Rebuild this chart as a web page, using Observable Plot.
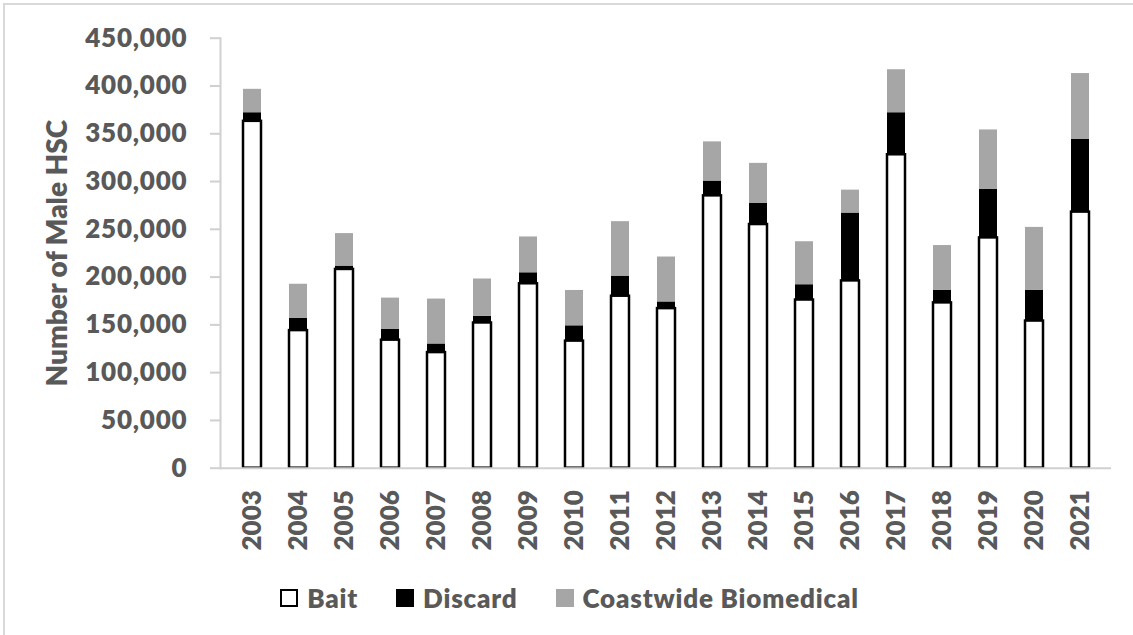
<!DOCTYPE html>
<html>
<head>
<meta charset="utf-8">
<script src="https://cdn.jsdelivr.net/npm/d3@7"></script>
<script src="https://cdn.jsdelivr.net/npm/@observablehq/plot@0.6"></script>
<style>
  html, body { margin: 0; padding: 0; background: #fff; }
  body { width: 1133px; height: 635px; position: relative; overflow: hidden; font-family: Lato, "Open Sans", sans-serif; }
  #frame { position: absolute; left: 3px; top: 3px; width: 1200px; height: 700px; border-left: 2px solid #d9d9d9; border-top: 2px solid #d9d9d9; pointer-events: none; }
  #chart { position: absolute; left: 0; top: 0; }
  #chart svg text { font-weight: 800; font-family: Lato, "Open Sans", sans-serif; }
  #legend { position: absolute; left: 3px; top: 570px; width: 1133px; height: 56px; display: flex; justify-content: center; align-items: center; gap: 38px; color: #595959; font-weight: 800; font-size: 26px; letter-spacing: 0.8px; }
  .item { display: flex; align-items: center; }
  .sw { width: 18px; height: 18px; box-sizing: border-box; margin-right: 9px; }
</style>
</head>
<body>
<div id="chart"></div>
<div id="legend"></div>
<div id="frame"></div>
<script>
const years = ["2003","2004","2005","2006","2007","2008","2009","2010","2011","2012","2013","2014","2015","2016","2017","2018","2019","2020","2021"];
const bait = [363000,144000,208000,134000,121000,152000,193000,133000,180000,167000,285000,255000,176000,196000,328000,173000,241000,154000,268000];
const discard = [9000,13000,3500,11500,9000,7000,11500,16000,21000,7000,15500,22000,16000,71000,44000,13000,51000,32000,76000];
const biomedical = [24500,35500,34000,32500,47000,39000,37500,37000,57000,47000,41000,42000,45000,24000,45000,47000,62000,66000,69000];
const seriesNames = ["Bait","Discard","Coastwide Biomedical"];
const seriesColors = ["#ffffff","#000000","#a6a6a6"];
const yTicks = [0,50000,100000,150000,200000,250000,300000,350000,400000,450000];
const yTitle = "Number of Male HSC";

const rows = years.flatMap((year, i) => [
  {year, series: seriesNames[0], value: bait[i]},
  {year, series: seriesNames[1], value: discard[i]},
  {year, series: seriesNames[2], value: biomedical[i]}
]);
const baitRows = rows.filter(d => d.series === seriesNames[0]);

const H = 570, marginTop = 37.7, marginBottom = H - 467.7;
const axisColor = "#d0d0d0";

const plot = Plot.plot({
  width: 1133,
  height: H,
  marginLeft: 220,
  marginRight: 22,
  marginTop,
  marginBottom,
  style: {fontFamily: "Lato, 'Open Sans', sans-serif", fontSize: "26px", color: "#595959", background: "transparent", overflow: "visible"},
  x: {domain: years, paddingInner: 0.616, paddingOuter: 0.308, align: 0.5, label: null},
  y: {domain: [0, 450000], label: null},
  color: {domain: seriesNames, range: seriesColors},
  marks: [
    Plot.frame({anchor: "left", stroke: axisColor, strokeWidth: 2}),
    Plot.axisY({ticks: yTicks, tickFormat: d3.format(","), tickSize: 10, tickPadding: 23, stroke: axisColor, strokeWidth: 2, label: null}),
    Plot.axisX({tickRotate: -90, tickSize: 0, tickPadding: 22, label: null}),
    Plot.barY(rows, Plot.stackY({x: "year", y: "value", z: "series", fill: "series", order: seriesNames})),
    Plot.barY(baitRows, {x: "year", y: "value", fill: "white", stroke: "black", strokeWidth: 2.5}),
    Plot.ruleY([0], {stroke: axisColor, strokeWidth: 2}),
    Plot.text([yTitle], {text: d => d, frameAnchor: "left", textAnchor: "middle", lineAnchor: "middle", dx: -162, rotate: -90, fill: "#595959", fontSize: 28})
  ]
});
document.getElementById("chart").appendChild(plot);
d3.select(plot).selectAll('g[aria-label="y-axis tick label"] text').attr("letter-spacing", "0.8px");

const legend = d3.select("#legend");
seriesNames.forEach((name, i) => {
  const it = legend.append("div").attr("class", "item");
  it.append("div").attr("class", "sw")
    .style("background", seriesColors[i])
    .style("border", i === 0 ? "2px solid #000" : "none");
  it.append("span").text(name);
});
</script>
</body>
</html>
